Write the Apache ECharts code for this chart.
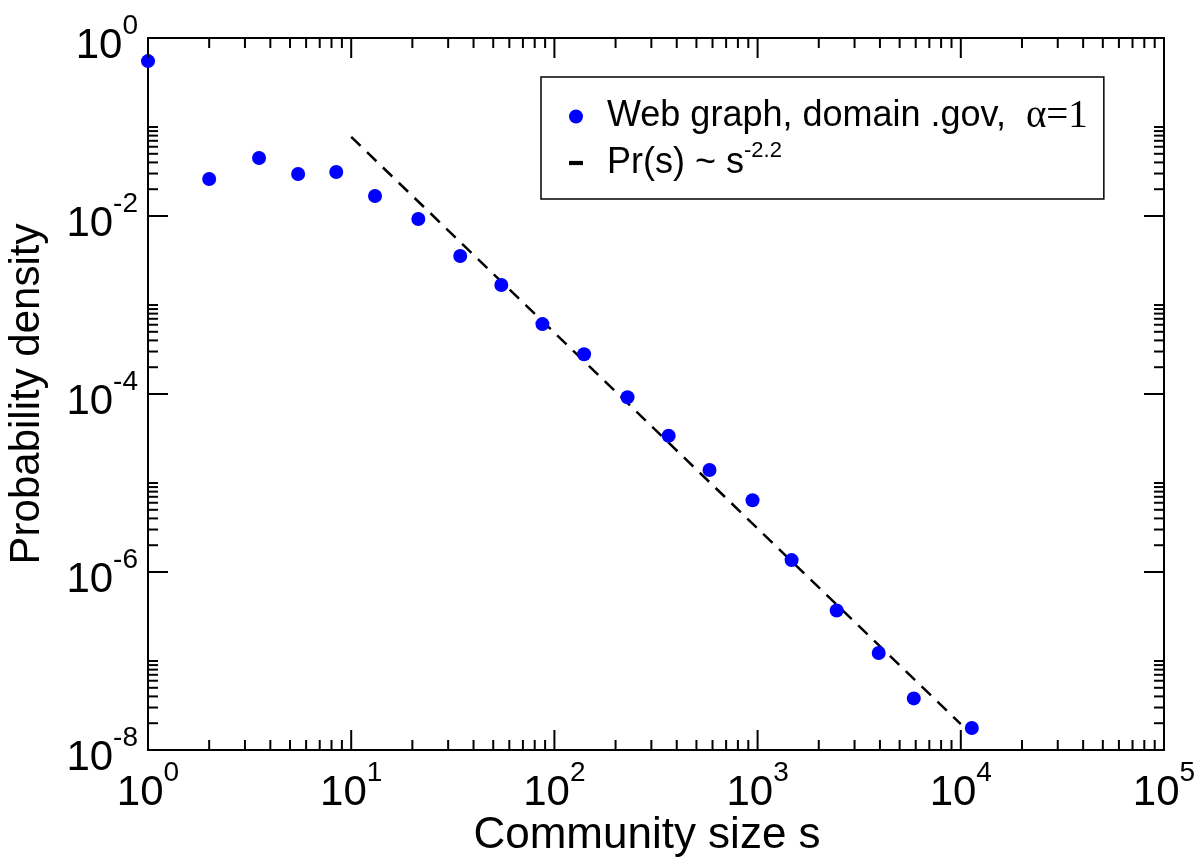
<!DOCTYPE html>
<html>
<head>
<meta charset="utf-8">
<script src="https://cdn.jsdelivr.net/npm/echarts@6/dist/echarts.min.js"></script>
<style>
html,body{margin:0;padding:0;background:#fff;}
#chart{width:1199px;height:857px;}
</style>
</head>
<body>
<div id="chart"></div>
<script>
// ---- data ----
const communitySize = [1, 2.0, 3.52, 5.48, 8.44, 13.1, 21.4, 34.4, 54.8, 87.3, 140, 229, 365, 580, 944, 1470, 2450, 3945, 5870, 11330];
const probDensity   = [0.55, 0.026, 0.0449, 0.0296, 0.0312, 0.0168, 0.00925, 0.00355, 0.00168, 6.1e-4, 2.8e-4, 9.2e-5, 3.4e-5, 1.4e-5, 6.4e-6, 1.36e-6, 3.7e-7, 1.23e-7, 3.8e-8, 1.77e-8];
const fitSize = [10, 10000];
const fitDensity = [0.0773, 1.95e-8];

const xMajorTicks = [1, 10, 100, 1000, 10000, 100000];
const xMinorTicks = [2,3,4,5,6,7,8,9, 20,30,40,50,60,70,80,90, 200,300,400,500,600,700,800,900,
                     2000,3000,4000,5000,6000,7000,8000,9000, 20000,30000,40000,50000,60000,70000,80000,90000];
const yMajorTicks = [1, 1e-2, 1e-4, 1e-6, 1e-8];
const yMinorTicks = [1e-1, 9e-2, 8e-2, 7e-2, 6e-2, 5e-2, 4e-2, 3e-2, 2e-2,
                     1e-3, 9e-4, 8e-4, 7e-4, 6e-4, 5e-4, 4e-4, 3e-4, 2e-4,
                     1e-5, 9e-6, 8e-6, 7e-6, 6e-6, 5e-6, 4e-6, 3e-6, 2e-6,
                     1e-7, 9e-8, 8e-8, 7e-8, 6e-8, 5e-8, 4e-8, 3e-8, 2e-8];

const nameData = 'Web graph, domain .gov,  α=1';
const nameFit = 'Pr(s) ~ s^-2.2';

const FONT = '"Liberation Sans", Arial, Helvetica, sans-serif';

// tick data for the custom series: [x, y, kind]
const tickData = [];
xMajorTicks.forEach(v => tickData.push([v, 1, 0]));
xMinorTicks.forEach(v => tickData.push([v, 1, 1]));
yMajorTicks.forEach(v => tickData.push([1, v, 2]));
yMinorTicks.forEach(v => tickData.push([1, v, 3]));

const chart = echarts.init(document.getElementById('chart'), null, {renderer: 'canvas'});

function expLabel(value, evenOnly) {
  const e = Math.round(Math.log10(value));
  if (evenOnly && e % 2 !== 0) return '';
  return '{b|10}{s|' + e + '}';
}
const labelRich = {
  b: {fontSize: 42, fontFamily: FONT, color: '#000'},
  s: {fontSize: 28, fontFamily: FONT, color: '#000', padding: [0, 0, 40, 0]}
};

chart.setOption({
  animation: false,
  textStyle: {fontFamily: FONT},
  grid: {left: 148, top: 38, right: 35, bottom: 107, containLabel: false, outerBoundsMode: 'none',
         show: true, borderColor: '#000', borderWidth: 2, backgroundColor: 'transparent'},
  xAxis: {
    type: 'log', logBase: 10, min: 1, max: 100000,
    name: 'Community size s', nameLocation: 'middle', nameGap: 64, nameMoveOverlap: false,
    nameTextStyle: {fontSize: 44, color: '#000', fontFamily: FONT, padding: [0, 18, 0, 0]},
    axisLine: {show: true, lineStyle: {color: '#000', width: 2}},
    axisTick: {show: false},
    splitLine: {show: false},
    axisLabel: {margin: 9, formatter: v => expLabel(v, false), rich: labelRich, showMinLabel: true, showMaxLabel: true}
  },
  yAxis: {
    type: 'log', logBase: 10, min: 1e-8, max: 1,
    name: 'Probability density', nameLocation: 'middle', nameGap: 100, nameRotate: 90, nameMoveOverlap: false,
    nameTextStyle: {fontSize: 42, color: '#000', fontFamily: FONT},
    axisLine: {show: true, lineStyle: {color: '#000', width: 2}},
    axisTick: {show: false},
    splitLine: {show: false},
    axisLabel: {margin: 10, formatter: v => expLabel(v, true), rich: labelRich, padding: [16, 0, 0, 0], showMinLabel: true, showMaxLabel: true}
  },
  legend: {
    orient: 'vertical', left: 541, top: 77,
    backgroundColor: '#fff', borderColor: '#000', borderWidth: 1.5, borderRadius: 0,
    padding: [20, 16, 13, 28], itemGap: 4, itemWidth: 14, itemHeight: 14,
    data: [{name: nameData, icon: 'circle'}, {name: nameFit, icon: 'path://M0,0H10V3H0Z'}],
    formatter: function (name) {
      if (name === nameData) return '{t|Web graph, domain .gov,  }{g|α=1}';
      return '{t|Pr(s) ~ s}{e|-2.2}';
    },
    textStyle: {
      color: '#000', padding: [0, 0, 0, 19],
      rich: {
        t: {fontSize: 36, lineHeight: 46, fontFamily: FONT, color: '#000'},
        g: {fontSize: 39, lineHeight: 46, fontFamily: '"Liberation Serif", "Times New Roman", serif', color: '#000'},
        e: {fontSize: 22, lineHeight: 22, fontFamily: FONT, color: '#000', padding: [0, 0, 24, 0]}
      }
    }
  },
  series: [
    {
      name: nameFit, type: 'line',
      data: fitSize.map((s, i) => [s, fitDensity[i]]),
      showSymbol: false, symbol: 'none',
      itemStyle: {color: '#000'},
      lineStyle: {color: '#000', width: 2.5, type: [13, 9]},
      z: 3
    },
    {
      name: nameData, type: 'scatter',
      data: communitySize.map((s, i) => [s, probDensity[i]]),
      symbol: 'circle', symbolSize: 14,
      itemStyle: {color: '#0000ff', opacity: 1},
      z: 4
    },
    {
      name: 'ticks', type: 'custom', silent: true, clip: false, z: 5,
      data: tickData,
      renderItem: function (params, api) {
        const cs = params.coordSys;
        const kind = api.value(2);
        const style = {stroke: '#000', lineWidth: 2};
        const top = cs.y, bottom = cs.y + cs.height, left = cs.x, right = cs.x + cs.width;
        if (kind === 0 || kind === 1) {
          const len = kind === 0 ? 20 : 10;
          const px = api.coord([api.value(0), 1])[0];
          return {type: 'group', children: [
            {type: 'line', shape: {x1: px, y1: bottom, x2: px, y2: bottom - len}, style: style},
            {type: 'line', shape: {x1: px, y1: top, x2: px, y2: top + len}, style: style}
          ]};
        } else {
          const len = kind === 2 ? 20 : 10;
          const py = api.coord([1, api.value(1)])[1];
          return {type: 'group', children: [
            {type: 'line', shape: {x1: left, y1: py, x2: left + len, y2: py}, style: style},
            {type: 'line', shape: {x1: right, y1: py, x2: right - len, y2: py}, style: style}
          ]};
        }
      }
    }
  ]
});
</script>
</body>
</html>
